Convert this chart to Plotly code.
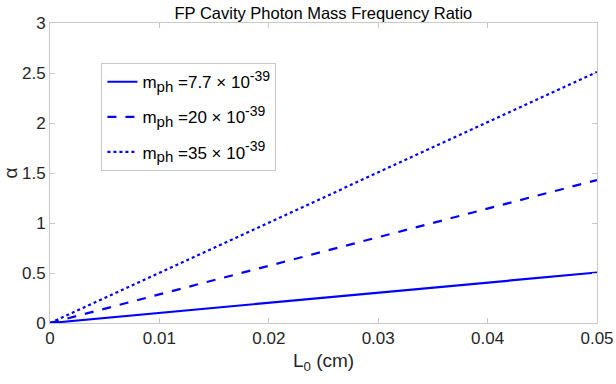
import plotly.graph_objects as go

x_vals = [0.0, 0.05]
alpha_77 = [0.0, 0.505]
alpha_20 = [0.0, 1.43]
alpha_35 = [0.0, 2.51]
names = ["m<sub><span style='font-size:15px'>ph</span></sub> =7.7 × 10<sup><span style='font-size:14px'>-39</span></sup>",
         "m<sub><span style='font-size:15px'>ph</span></sub> =20 × 10<sup><span style='font-size:14px'>-39</span></sup>",
         "m<sub><span style='font-size:15px'>ph</span></sub> =35 × 10<sup><span style='font-size:14px'>-39</span></sup>"]
x_ticks = [0, 0.01, 0.02, 0.03, 0.04, 0.05]
x_tick_text = ["0", "0.01", "0.02", "0.03", "0.04", "0.05"]
y_ticks = [0, 0.5, 1, 1.5, 2, 2.5, 3]
y_tick_text = ["0", "0.5", "1", "1.5", "2", "2.5", "3"]

blue = "#0000ff"
fig = go.Figure()
for i, (ys, nm, dash) in enumerate(zip([alpha_77, alpha_20, alpha_35], names, ["solid", "dash", "dot"])):
    fig.add_trace(go.Scatter(x=x_vals, y=ys, mode="lines", name=nm, legendgroup=f"g{i}",
                             line=dict(color=blue, width=2.2, dash=dash)))

axis_common = dict(showgrid=False, zeroline=False, showline=True, linecolor="#c8c8c8",
                   linewidth=1, mirror="ticks", ticks="inside", ticklen=5, automargin=False,
                   tickcolor="#c8c8c8", tickfont=dict(size=17, color="#262626"))
fig.update_layout(
    width=616, height=384,
    margin=dict(l=50, r=19, t=23, b=61),
    paper_bgcolor="white", plot_bgcolor="white",
    font=dict(family="Liberation Sans, Arial, sans-serif", color="#262626"),
    title=dict(text="FP Cavity Photon Mass Frequency Ratio", x=0.525, xanchor="center",
               y=0.966, yanchor="middle", font=dict(size=16.5, color="#000000")),
    xaxis=dict(range=[0, 0.05], tickvals=x_ticks, ticktext=x_tick_text,
               title=dict(text="L<sub>0</sub> (cm)", font=dict(size=19), standoff=6), **axis_common),
    yaxis=dict(range=[0, 3], tickvals=y_ticks, ticktext=y_tick_text,
               title=dict(text="α", font=dict(size=19), standoff=7), **axis_common),
    legend=dict(x=0.094, y=0.866, xanchor="left", yanchor="top",
                bordercolor="#c8c8c8", borderwidth=1, bgcolor="white",
                font=dict(size=17, color="#000000"), itemwidth=30, tracegroupgap=10),
    showlegend=True,
)
fig.write_html("out.html")
